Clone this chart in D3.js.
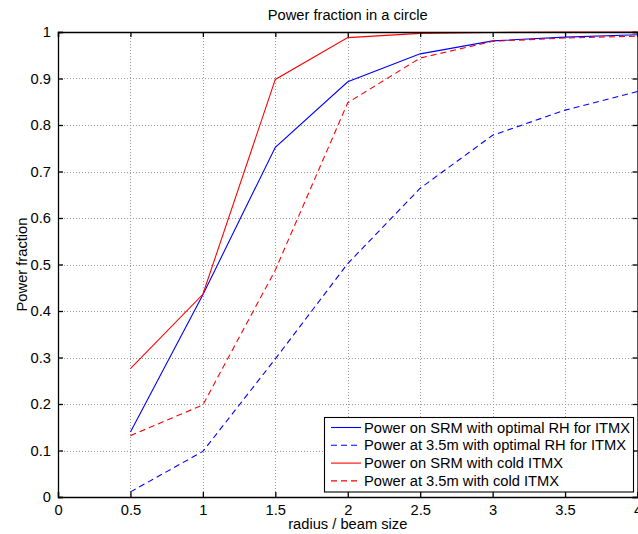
<!DOCTYPE html>
<html><head><meta charset="utf-8">
<script src="https://cdn.jsdelivr.net/npm/d3@7"></script>
<style>body{margin:0;background:#fff}svg{display:block}text{font-family:"Liberation Sans",Arial,Helvetica,sans-serif;fill:#000}</style>
</head><body>
<svg id="c" width="638" height="534"></svg>
<script>
const radius = [0.5, 1, 1.5, 2, 2.5, 3, 3.5, 4];
const srmOptimal = [0.140, 0.435, 0.752, 0.893, 0.953, 0.981, 0.989, 0.994];
const at35Optimal = [0.011, 0.098, 0.297, 0.502, 0.664, 0.778, 0.832, 0.872];
const srmCold = [0.276, 0.436, 0.898, 0.988, 0.997, 0.999, 1.0, 1.0];
const at35Cold = [0.132, 0.198, 0.488, 0.848, 0.944, 0.980, 0.987, 0.991];
const seriesNames = ["Power on SRM with optimal RH for ITMX","Power at 3.5m with optimal RH for ITMX","Power on SRM with cold ITMX","Power at 3.5m with cold ITMX"];
const xTicks = [0,0.5,1,1.5,2,2.5,3,3.5,4];
const yTicks = [0,0.1,0.2,0.3,0.4,0.5,0.6,0.7,0.8,0.9,1];
const title = "Power fraction in a circle";
const xLabel = "radius / beam size";
const yLabel = "Power fraction";

const series = [
  {name: seriesNames[0], values: srmOptimal, color: "#0000ff", dash: null},
  {name: seriesNames[1], values: at35Optimal, color: "#0000ff", dash: "6,4"},
  {name: seriesNames[2], values: srmCold, color: "#ff0000", dash: null},
  {name: seriesNames[3], values: at35Cold, color: "#ff0000", dash: "6,4"}
];

const L = 58, R = 637.5, T = 32, B = 497;
const svg = d3.select("#c");
const x = d3.scaleLinear().domain([0,4]).range([L,R]);
const y = d3.scaleLinear().domain([0,1]).range([B,T]);
const fs = 14.7;

// grid
const g = svg.append("g");
g.selectAll(".gx").data(xTicks.slice(1,-1)).enter().append("line")
  .attr("x1",d=>Math.round(x(d))+0.5).attr("x2",d=>Math.round(x(d))+0.5).attr("y1",T).attr("y2",B)
  .attr("stroke","#999").attr("stroke-dasharray","1,2");
g.selectAll(".gy").data(yTicks.slice(1,-1)).enter().append("line")
  .attr("y1",d=>Math.round(y(d))+0.5).attr("y2",d=>Math.round(y(d))+0.5).attr("x1",L).attr("x2",R)
  .attr("stroke","#999").attr("stroke-dasharray","1,2");

// lines
const line = d3.line().x((d,i)=>x(radius[i])).y(d=>y(d));
svg.selectAll(".series").data(series).enter().append("path")
  .attr("d",d=>line(d.values)).attr("fill","none").attr("stroke",d=>d.color)
  .attr("stroke-width",1.1).attr("stroke-dasharray",d=>d.dash);

// axes (box with inward ticks)
const axB = d3.axisBottom(x).tickValues(xTicks).tickSize(-5).tickPadding(8).tickFormat(d3.format("~g"));
const axL = d3.axisLeft(y).tickValues(yTicks).tickSize(-5).tickPadding(7).tickFormat(d3.format("~g"));
const axT = d3.axisTop(x).tickValues(xTicks).tickSize(-5).tickFormat("");
const axR = d3.axisRight(y).tickValues(yTicks).tickSize(-5).tickFormat("");
function style(sel){
  sel.selectAll("path,line").attr("stroke","#000").attr("stroke-width",1.3);
  sel.selectAll("text").style("font-size",fs+"px").attr("fill","#000");
  sel.attr("font-family",null);
}
svg.append("g").attr("transform",`translate(0,${B})`).call(axB).call(style);
svg.append("g").attr("transform",`translate(${L},0)`).call(axL).call(style);
svg.append("g").attr("transform",`translate(0,${T})`).call(axT).call(style);
svg.append("g").attr("transform",`translate(${R},0)`).call(axR).call(style);

// titles
svg.append("text").attr("x",(L+R)/2).attr("y",20).attr("text-anchor","middle").style("font-size",fs+"px").text(title);
svg.append("text").attr("x",(L+R)/2).attr("y",529).attr("text-anchor","middle").style("font-size",fs+"px").text(xLabel);
svg.append("text").attr("transform",`translate(27,${(T+B)/2}) rotate(-90)`).attr("text-anchor","middle").style("font-size",fs+"px").text(yLabel);

// legend
const lg = svg.append("g");
lg.append("rect").attr("x",324.5).attr("y",417.5).attr("width",309).attr("height",74.5)
  .attr("fill","#fff").attr("stroke","#000").attr("stroke-width",1.1);
const rows = lg.selectAll(".row").data(series).enter().append("g")
  .attr("transform",(d,i)=>`translate(0,${427.5+i*17.8})`);
rows.append("line").attr("x1",331).attr("x2",361).attr("y1",0).attr("y2",0)
  .attr("stroke",d=>d.color).attr("stroke-width",1.1).attr("stroke-dasharray",d=>d.dash);
rows.append("text").attr("x",364).attr("y",5).style("font-size",fs+"px").text(d=>d.name);
</script>
</body></html>
